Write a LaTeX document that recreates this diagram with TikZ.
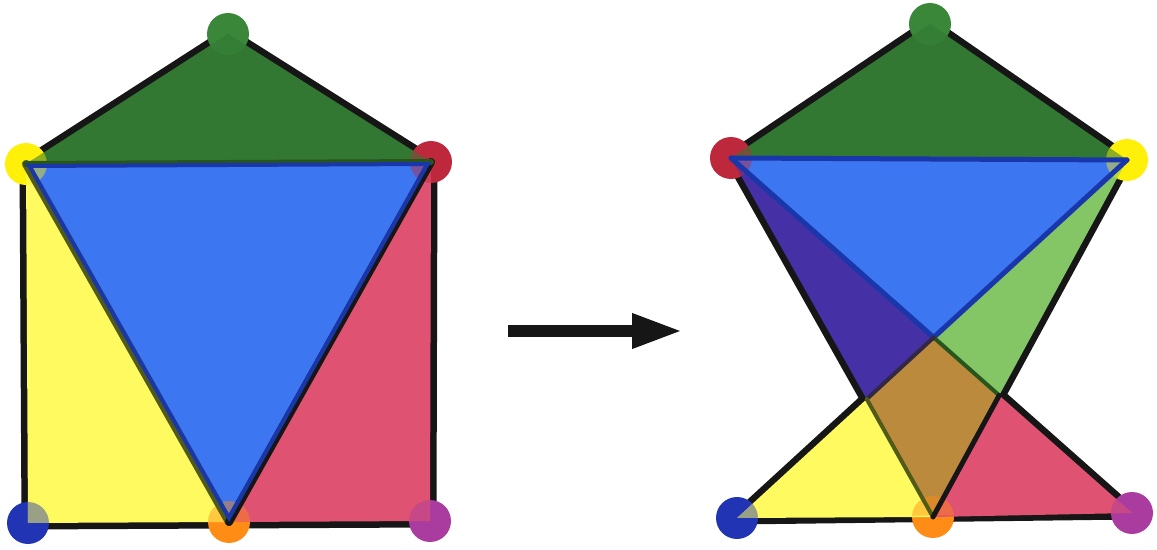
\documentclass[tikz,border=0pt]{standalone}
\usepackage{tikz}
\usetikzlibrary{arrows.meta}
\definecolor{greenface}{RGB}{50,120,50}
\definecolor{blueface}{RGB}{60,118,240}
\definecolor{yellowface}{RGB}{255,250,95}
\definecolor{pinkface}{RGB}{224,82,114}
\definecolor{violetface}{RGB}{70,48,165}
\definecolor{limeface}{RGB}{132,198,102}
\definecolor{brownface}{RGB}{188,138,60}
\definecolor{greendot}{RGB}{58,135,58}
\definecolor{yellowdot}{RGB}{255,240,10}
\definecolor{reddot}{RGB}{190,40,60}
\definecolor{bluedot}{RGB}{32,52,180}
\definecolor{orangedot}{RGB}{255,140,20}
\definecolor{purpledot}{RGB}{170,60,160}
\definecolor{blueedge}{RGB}{25,55,170}
\definecolor{oliveedge}{RGB}{80,90,25}
\definecolor{greenedge}{RGB}{40,85,30}
\definecolor{violetedge}{RGB}{50,40,70}
\definecolor{ink}{RGB}{22,22,22}
\tikzset{
	rim/.style={draw=ink,line width=0.26cm,line join=round},
	seam/.style={line width=0.1cm,line cap=round},
	tint/.style={fill opacity=0.45},
}
\newcommand{\cornerdots}[6]{%
	\fill[greendot] (#1) circle[radius=0.42cm];
	\fill[yellowdot] (#2) circle[radius=0.42cm];
	\fill[reddot] (#3) circle[radius=0.42cm];
	\fill[bluedot] (#4) circle[radius=0.42cm];
	\fill[orangedot] (#5) circle[radius=0.42cm];
	\fill[purpledot] (#6) circle[radius=0.42cm];
}

\begin{document}
\begin{tikzpicture}[x=0.02cm,y=-0.02cm]
	\useasboundingbox (0,0) rectangle (1157,550);
	\coordinate (g1) at (228,34);
	\coordinate (y1) at (26,164);
	\coordinate (r1) at (431,162);
	\coordinate (b1) at (28,523);
	\coordinate (o1) at (229,522);
	\coordinate (p1) at (430,521);
	\coordinate (g2) at (930,24);
	\coordinate (r2) at (731,158);
	\coordinate (y2) at (1127,160);
	\coordinate (b2) at (737,518);
	\coordinate (o2) at (933,517);
	\coordinate (p2) at (1132,513);
	\coordinate (x1) at (intersection of r2--p2 and y2--b2);
	\coordinate (x2) at (intersection of r2--o2 and y2--b2);
	\coordinate (x3) at (intersection of r2--p2 and y2--o2);
	\coordinate (a1) at (508,331);
	\coordinate (a2) at (683,331);

	\draw[rim] (y1) -- (g1) -- (r1) -- (p1) -- (b1) -- cycle;
	\cornerdots{g1}{y1}{r1}{b1}{o1}{p1}
	\fill[greenface] (g1) -- (y1) -- (r1) -- cycle;
	\fill[yellowface] (y1) -- (b1) -- (o1) -- cycle;
	\fill[pinkface] (r1) -- (o1) -- (p1) -- cycle;
	\fill[blueface] (y1) -- (r1) -- (o1) -- cycle;
	\begin{scope}
		\clip (y1) -- (g1) -- (r1) -- (p1) -- (b1) -- cycle;
		\begin{scope}[tint]
			\cornerdots{g1}{y1}{r1}{b1}{o1}{p1}
		\end{scope}
	\end{scope}
	\draw[seam,oliveedge,line width=0.16cm] (y1) -- (o1);
	\draw[seam,ink,line width=0.16cm] (r1) -- (o1);
	\draw[seam,greenedge,line width=0.12cm] (y1) -- (r1);
	\begin{scope}
		\clip (y1) -- (r1) -- (o1) -- cycle;
		\draw[blueedge,line width=0.16cm,line join=round] (y1) -- (r1) -- (o1) -- cycle;
	\end{scope}

	\draw[ink,line width=0.24cm,-{Triangle[length=1.02cm,width=0.64cm]}] (a1) -- (a2);

	\draw[rim] (g2) -- (y2) -- (x3) -- (p2) -- (b2) -- (x2) -- (r2) -- cycle;
	\cornerdots{g2}{y2}{r2}{b2}{o2}{p2}
	\fill[greenface] (g2) -- (r2) -- (y2) -- cycle;
	\fill[blueface] (r2) -- (y2) -- (x1) -- cycle;
	\fill[violetface] (r2) -- (x1) -- (x2) -- cycle;
	\fill[limeface] (y2) -- (x3) -- (x1) -- cycle;
	\fill[brownface] (x1) -- (x3) -- (o2) -- (x2) -- cycle;
	\fill[yellowface] (b2) -- (x2) -- (o2) -- cycle;
	\fill[pinkface] (x3) -- (p2) -- (o2) -- cycle;
	\begin{scope}
		\clip (g2) -- (y2) -- (x3) -- (p2) -- (b2) -- (x2) -- (r2) -- cycle;
		\begin{scope}[tint]
			\cornerdots{g2}{y2}{r2}{b2}{o2}{p2}
		\end{scope}
	\end{scope}
	\draw[seam,blueedge] (r2) -- (y2);
	\draw[seam,blueedge] (r2) -- (x1) -- (y2);
	\draw[seam,greenedge,line width=0.08cm] (x1) -- (x3);
	\draw[seam,violetedge,line width=0.08cm] (x1) -- (x2);
	\draw[seam,oliveedge,line width=0.08cm] (x2) -- (o2);
	\draw[seam,ink] (x3) -- (o2);
\end{tikzpicture}
\end{document}
